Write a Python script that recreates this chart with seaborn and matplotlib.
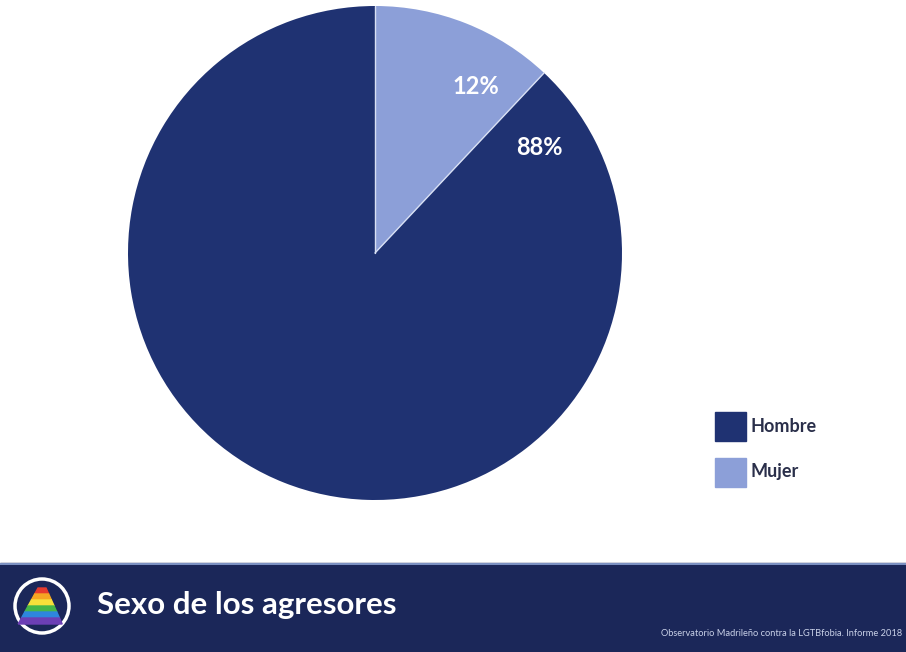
import numpy as np
import seaborn as sns
import matplotlib.pyplot as plt
from matplotlib.patches import Rectangle, Circle, Polygon

sexo = ['Hombre', 'Mujer']
porcentaje = [88, 12]
colores = ['#1f3272', '#8c9fd8']

titulo = 'Sexo de los agresores'
fuente = 'Observatorio Madrileño contra la LGTBfobia. Informe 2018'

sns.set_theme(style='white')
plt.rcParams['font.family'] = ['Lato', 'DejaVu Sans']

fig = plt.figure(figsize=(9.06, 6.52), dpi=100)
fig.patch.set_facecolor('white')

# pie, centre (375, 253) px, radius 247 px
ax = fig.add_axes([128 / 906, 1 - 500 / 652, 494 / 906, 494 / 652])
wedges, _ = ax.pie(porcentaje, colors=colores, startangle=90, counterclock=True,
                   radius=1, wedgeprops=dict(linewidth=0))
ax.set_xlim(-1, 1)
ax.set_ylim(-1, 1)
ax.set_aspect('equal')
ax.axis('off')

# thin light line along the shared edges of the slices
for w in wedges:
    ang = np.deg2rad(w.theta1)
    ax.plot([0, np.cos(ang)], [0, np.sin(ang)], color='#d8e0f4', lw=1)

# labels sit next to the shared edge of the two slices
borde = wedges[1].theta1
for w, p, off in zip(wedges, porcentaje, [-14, 12]):
    ang = np.deg2rad(borde + off)
    ax.text(0.79 * np.cos(ang), 0.79 * np.sin(ang), f'{p}%', color='white',
            fontsize=17, fontweight='bold', ha='center', va='center')

# legend
leg = fig.add_axes([0, 0, 1, 1], facecolor='none')
leg.set_xlim(0, 906)
leg.set_ylim(652, 0)
leg.axis('off')
for i, (s, c) in enumerate(zip(sexo, colores)):
    y = 412 + i * 46
    leg.add_patch(Rectangle((715, y), 31, 29, color=c))
    leg.text(750, y + 14, s, fontsize=13, fontweight='bold', color='#2a2f4a',
             va='center', ha='left')

# footer band
leg.add_patch(Rectangle((0, 563), 906, 89, color='#1b2759'))
leg.plot([0, 906], [564, 564], color='#8fa6d6', lw=1.2)
leg.add_patch(Circle((42, 606), 27, fill=False, ec='white', lw=2.5))
bandas = ['#e63b2e', '#f5a623', '#f7e03a', '#45b649', '#2e86de', '#6c3fb5']
for k, bc in enumerate(bandas):
    y0 = 588 + k * 6
    y1 = y0 + 6
    x0a = 42 - 4 - (y0 - 588) * 0.55
    x1a = 42 + 4 + (y0 - 588) * 0.45
    x0b = 42 - 4 - (y1 - 588) * 0.55
    x1b = 42 + 4 + (y1 - 588) * 0.45
    leg.add_patch(Polygon([(x0a, y0), (x1a, y0), (x1b, y1), (x0b, y1)], color=bc))
leg.text(97, 605, titulo, fontsize=22.5, fontweight='bold', color='white',
         va='center', ha='left')
leg.text(902, 634, fuente, fontsize=6.7, color='#c9d1e8', va='center', ha='right')

fig.savefig('out.png', dpi=100)
